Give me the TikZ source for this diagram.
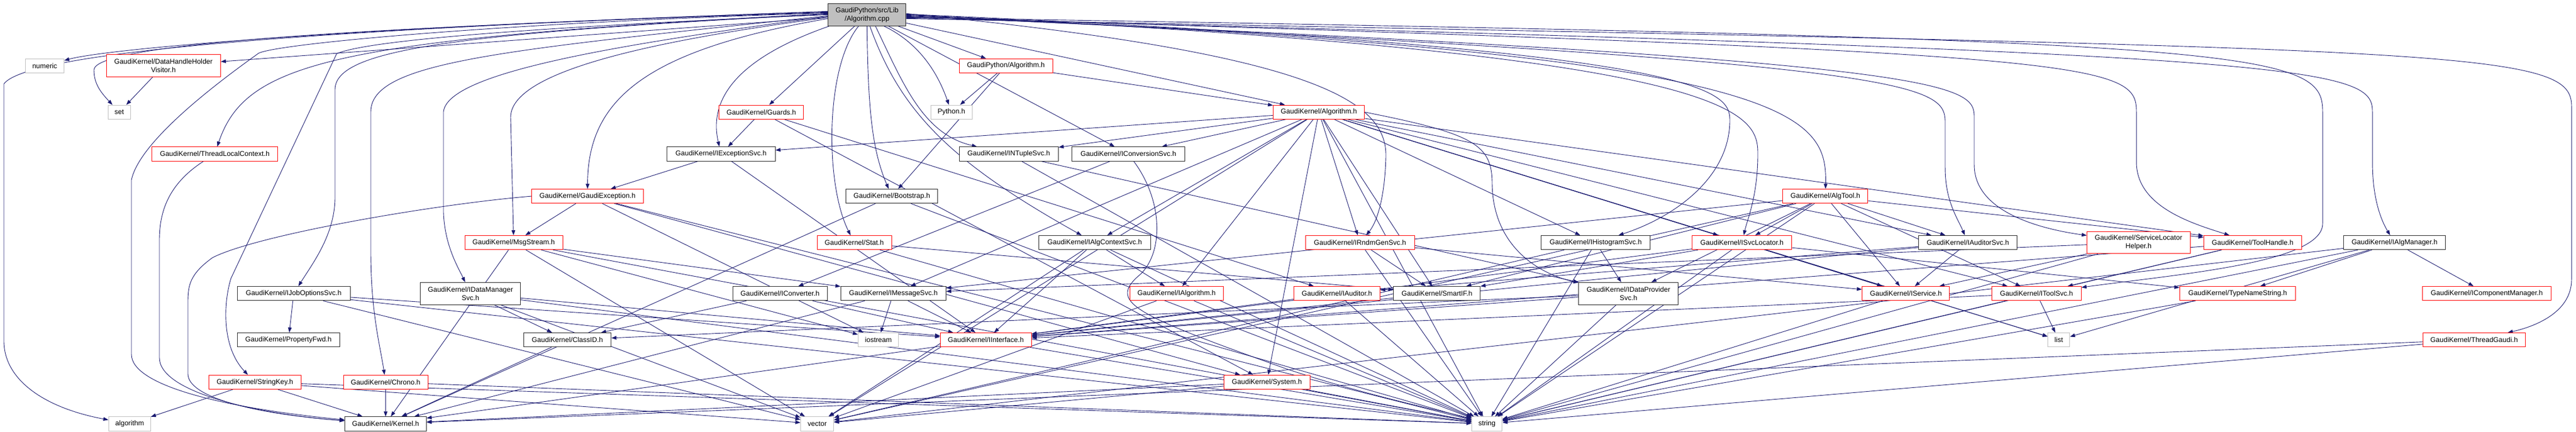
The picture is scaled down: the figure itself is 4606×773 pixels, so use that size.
\documentclass[tikz,border=0pt]{standalone}
\usepackage{fontspec}
\newfontfamily\dox{Liberation Sans}
\usetikzlibrary{arrows.meta}
\pgfdeclarelayer{bg}
\pgfsetlayers{bg,main}
\definecolor{edgec}{RGB}{25,25,112}
\definecolor{redc}{RGB}{255,0,0}
\definecolor{greyc}{RGB}{191,191,191}
\definecolor{rootc}{RGB}{191,191,191}
\begin{document}
\begin{tikzpicture}[x=1pt,y=-1pt,
  box/.style={rectangle,inner sep=0pt,minimum height=25.3pt,align=center,fill=white,text=black,line width=1pt,
    font=\dox\fontsize{12.5}{15}\selectfont},
  rb/.style={box,draw=redc},
  kb/.style={box,draw=black!85},
  gb/.style={box,draw=greyc},
  tall/.style={minimum height=39.6pt},
  e/.style={draw=edgec,line width=0.9pt,-{Triangle[length=9pt,width=6.5pt]}}]
\useasboundingbox (0,0) rectangle (4606,773);
% ---- nodes ----
\node[kb,tall,fill=rootc,minimum width=139.3pt] (R) at (1550.3,26.3) {GaudiPython/src/Lib\\/Algorithm.cpp};
% row 1
\node[gb,minimum width=68.7pt] (numeric) at (80,117.7) {numeric};
\node[rb,tall,minimum width=204.3pt] (DHHV) at (292.2,117.7) {GaudiKernel/DataHandleHolder\\Visitor.h};
\node[rb,minimum width=167.3pt] (GPAlg) at (1798.7,117.7) {GaudiPython/Algorithm.h};
% row 2
\node[gb,minimum width=40pt] (set) at (213.3,200.7) {set};
\node[rb,minimum width=151pt] (Guards) at (1361.2,200.7) {GaudiKernel/Guards.h};
\node[gb,minimum width=74.3pt] (PythonH) at (1701.2,200.7) {Python.h};
\node[rb,minimum width=163.3pt] (GKAlg) at (2358.3,200.7) {GaudiKernel/Algorithm.h};
% row 3
\node[rb,minimum width=225.3pt] (TLC) at (384,275.5) {GaudiKernel/ThreadLocalContext.h};
\node[kb,minimum width=193.7pt] (IExcSvc) at (1289.2,275.5) {GaudiKernel/IExceptionSvc.h};
\node[kb,minimum width=177.3pt] (INTuple) at (1803.7,275.5) {GaudiKernel/INTupleSvc.h};
\node[kb,minimum width=201.7pt] (IConvSvc) at (2017.5,275.5) {GaudiKernel/IConversionSvc.h};
% row 4
\node[rb,minimum width=200.3pt] (GaudiExc) at (1050.5,351.1) {GaudiKernel/GaudiException.h};
\node[kb,minimum width=164.3pt] (Bootstrap) at (1594.5,351.1) {GaudiKernel/Bootstrap.h};
\node[rb,minimum width=152.3pt] (AlgTool) at (3263.8,351.1) {GaudiKernel/AlgTool.h};
% row 5
\node[rb,minimum width=175pt] (MsgStream) at (918.5,434.1) {GaudiKernel/MsgStream.h};
\node[rb,minimum width=133pt] (Stat) at (1527.5,434.1) {GaudiKernel/Stat.h};
\node[kb,minimum width=200pt] (IAlgCtx) at (1957.3,434.1) {GaudiKernel/IAlgContextSvc.h};
\node[rb,minimum width=195pt] (IRndm) at (2431.8,434.1) {GaudiKernel/IRndmGenSvc.h};
\node[kb,minimum width=195pt] (IHisto) at (2853.2,434.1) {GaudiKernel/IHistogramSvc.h};
\node[rb,minimum width=178.3pt] (ISvcLoc) at (3114.8,434.1) {GaudiKernel/ISvcLocator.h};
\node[kb,minimum width=176pt] (IAudSvc) at (3518.7,434.1) {GaudiKernel/IAuditorSvc.h};
\node[rb,tall,minimum width=184.3pt] (SLH) at (3823.8,434.1) {GaudiKernel/ServiceLocator\\Helper.h};
\node[rb,minimum width=175pt] (ToolHandle) at (4027.8,434.1) {GaudiKernel/ToolHandle.h};
\node[kb,minimum width=181.7pt] (IAlgMgr) at (4281.5,434.1) {GaudiKernel/IAlgManager.h};
% row 6
\node[kb,minimum width=201.7pt] (IJOS) at (525.2,525.2) {GaudiKernel/IJobOptionsSvc.h};
\node[kb,tall,minimum width=179pt] (IDMS) at (841.2,525.2) {GaudiKernel/IDataManager\\Svc.h};
\node[kb,minimum width=169.3pt] (IConverter) at (1394.7,525.2) {GaudiKernel/IConverter.h};
\node[kb,minimum width=188pt] (IMsgSvc) at (1597.3,525.2) {GaudiKernel/IMessageSvc.h};
\node[rb,minimum width=167pt] (IAlgorithm) at (2103.8,525.2) {GaudiKernel/IAlgorithm.h};
\node[rb,minimum width=153.7pt] (IAuditor) at (2390.5,525.2) {GaudiKernel/IAuditor.h};
\node[kb,minimum width=154.7pt] (SmartIF) at (2569.3,525.2) {GaudiKernel/SmartIF.h};
\node[kb,tall,minimum width=177.7pt] (IDPS) at (2911.8,525.2) {GaudiKernel/IDataProvider\\Svc.h};
\node[rb,minimum width=156.3pt] (IService) at (3407.8,525.2) {GaudiKernel/IService.h};
\node[rb,minimum width=160pt] (IToolSvc) at (3641.3,525.2) {GaudiKernel/IToolSvc.h};
\node[rb,minimum width=207.3pt] (TNS) at (4001,525.2) {GaudiKernel/TypeNameString.h};
\node[rb,minimum width=229.7pt] (ICompMgr) at (4446.5,525.2) {GaudiKernel/IComponentManager.h};
% row 7
\node[kb,minimum width=183pt] (PropFwd) at (515.8,608.2) {GaudiKernel/PropertyFwd.h};
\node[kb,minimum width=156.3pt] (ClassID) at (1014.5,608.2) {GaudiKernel/ClassID.h};
\node[gb,minimum width=72.3pt] (iostream) at (1570.5,608.2) {iostream};
\node[rb,minimum width=162.7pt] (IInterface) at (1762.7,608.2) {GaudiKernel/IInterface.h};
\node[gb,minimum width=39pt] (list) at (3681.2,608.2) {list};
\node[rb,minimum width=183pt] (ThreadGaudi) at (4423.8,608.2) {GaudiKernel/ThreadGaudi.h};
% row 8
\node[rb,minimum width=165pt] (StringKey) at (455.8,683.8) {GaudiKernel/StringKey.h};
\node[rb,minimum width=151pt] (Chrono) at (689.5,683.8) {GaudiKernel/Chrono.h};
\node[rb,minimum width=153.7pt] (System) at (2265.2,683.8) {GaudiKernel/System.h};
% row 9
\node[gb,minimum width=75pt] (algorithm) at (231.8,758.4) {algorithm};
\node[kb,minimum width=145.7pt] (Kernel) at (689.5,758.4) {GaudiKernel/Kernel.h};
\node[gb,minimum width=59pt] (vector) at (1461.2,758.4) {vector};
\node[gb,minimum width=54.3pt] (string) at (2658.8,758.4) {string};
% ---- edges ----
\begin{pgfonlayer}{bg}
\fill[white] (0,0) rectangle (4606,773);
\foreach \a/\b in {R/DHHV, R/Guards, R/GPAlg, R/GKAlg, R/IConvSvc,
  DHHV/set, GPAlg/PythonH, GPAlg/Bootstrap, GPAlg/GKAlg,
  Guards/IExcSvc, Guards/IAuditor, Guards/System,
  IJOS/PropFwd, IJOS/IInterface, IJOS/vector, IJOS/string,
  StringKey/algorithm, StringKey/Kernel, StringKey/string, StringKey/vector,
  Chrono/Kernel, Chrono/string,
  IDMS/ClassID, IDMS/IInterface, IDMS/string, IDMS/vector,
  MsgStream/IMsgSvc, MsgStream/string, MsgStream/vector, MsgStream/iostream, MsgStream/Kernel,
  GaudiExc/MsgStream, GaudiExc/iostream, GaudiExc/string, GaudiExc/System,
  IExcSvc/GaudiExc, IExcSvc/IInterface,
  Bootstrap/string, Bootstrap/Kernel,
  Stat/SmartIF, Stat/string,
  INTuple/IDPS, INTuple/string,
  IConvSvc/IConverter,
  IConverter/ClassID, IConverter/IInterface,
  IMsgSvc/iostream, IMsgSvc/IInterface, IMsgSvc/Kernel,
  IAlgCtx/IAlgorithm, IAlgCtx/IInterface, IAlgCtx/vector, IAlgCtx/string,
  IAlgorithm/string, IAlgorithm/vector,
  System/string, System/vector, System/Kernel,
  GKAlg/IExcSvc, GKAlg/INTuple, GKAlg/IConvSvc, GKAlg/IAlgCtx, GKAlg/IMsgSvc, GKAlg/IAlgorithm,
  GKAlg/System, GKAlg/IRndm, GKAlg/IHisto, GKAlg/ISvcLoc, GKAlg/IAudSvc, GKAlg/IToolSvc,
  GKAlg/ToolHandle, GKAlg/SmartIF, GKAlg/IService, GKAlg/string, GKAlg/vector, GKAlg/list,
  IRndm/SmartIF, IRndm/string, IRndm/IService,
  IHisto/IDPS, IHisto/string, IHisto/vector,
  IDPS/string, IDPS/ClassID, IDPS/IInterface,
  IAuditor/string, IAuditor/IInterface,
  SmartIF/IInterface,
  AlgTool/ISvcLoc, AlgTool/IService, AlgTool/IAudSvc, AlgTool/IToolSvc, AlgTool/SmartIF,
  AlgTool/IDPS, AlgTool/IMsgSvc, AlgTool/string, AlgTool/vector, AlgTool/ToolHandle,
  ISvcLoc/string, ISvcLoc/IInterface, ISvcLoc/list, ISvcLoc/TNS, ISvcLoc/SmartIF, ISvcLoc/IService,
  IService/string,
  IAudSvc/IService, IAudSvc/IAuditor, IAudSvc/IInterface,
  IToolSvc/list, IToolSvc/string, IToolSvc/IInterface,
  SLH/IService, SLH/IMsgSvc, SLH/string,
  ToolHandle/IToolSvc, ToolHandle/IInterface, ToolHandle/string,
  TNS/string,
  IAlgMgr/ICompMgr, IAlgMgr/TNS, IAlgMgr/list, IAlgMgr/string, IAlgMgr/vector,
  ThreadGaudi/string, ThreadGaudi/Kernel,
  IInterface/Kernel, IInterface/string,
  ClassID/Kernel}
  \draw[e] (\a) -- (\b);
% curved routes from the root
\draw[e] ([yshift=6pt]R.west) .. controls (800,45) and (60,80) .. (7,150) -- (7,610) .. controls (7,680) and (80,730) .. (algorithm);
\draw[e] ([yshift=5pt]R.west) .. controls (700,45) and (200,85) .. (numeric);
\draw[e] ([yshift=4pt]R.west) .. controls (600,50) and (170,80) .. (168,125) .. controls (168,150) and (180,165) .. (set);
\draw[e] ([yshift=2pt]R.west) .. controls (600,70) and (440,110) .. (TLC);
\draw[e] ([yshift=1pt]R.west) .. controls (800,60) and (600,90) .. (599,160) -- (599,355) .. controls (598,420) and (560,470) .. (IJOS);
\draw[e] (R.west) .. controls (800,55) and (640,80) .. (602,96) -- (413,498) .. controls (400,540) and (395,620) .. (StringKey);
\draw[e] ([yshift=-2pt]R.west) .. controls (900,90) and (663,110) .. (663,200) -- (663,450) .. controls (663,560) and (680,620) .. (Chrono);
\draw[e] ([yshift=-3pt]R.west) .. controls (1100,80) and (800,130) .. (793,200) -- (793,380) .. controls (795,440) and (820,480) .. (IDMS);
\draw[e] ([yshift=-5pt]R.west) .. controls (1150,75) and (913,130) .. (913,210) -- (MsgStream);
\draw[e] ([yshift=-7pt]R.west) .. controls (1150,90) and (1051,180) .. (GaudiExc);
\draw[e] ([xshift=3pt]R.south west) .. controls (1330,100) and (1265,170) .. (IExcSvc);
\draw[e] ([yshift=3pt]R.west) .. controls (900,40) and (470,80) .. (460,97) .. controls (400,140) and (250,250) .. (235,322) -- (235,634) .. controls (235,690) and (400,730) .. (Kernel);
\draw[e] ([xshift=-15pt]R.south) .. controls (1475,120) and (1475,330) .. (Stat);
\draw[e] (R.south) .. controls (1552,200) and (1560,270) .. (Bootstrap);
\draw[e] ([xshift=5pt]R.south) .. controls (1610,200) and (1700,290) .. (IAlgCtx);
\draw[e] ([xshift=15pt]R.south) .. controls (1615,150) and (1650,240) .. (INTuple);
\draw[e] ([xshift=30pt]R.south) .. controls (1650,80) and (1680,140) .. (PythonH);
\draw[e] ([yshift=2pt]R.east) .. controls (2350,95) and (2480,180) .. (2478,280) .. controls (2476,360) and (2460,400) .. (IRndm);
\draw[e] ([yshift=1pt]R.east) .. controls (3050,88) and (3093,160) .. (3093,215) .. controls (3093,320) and (2990,390) .. (IHisto);
\draw[e] (R.east) .. controls (3110,95) and (3143,200) .. (3143,275) .. controls (3143,350) and (3125,390) .. (ISvcLoc);
\draw[e] ([yshift=-1pt]R.east) .. controls (3210,95) and (3267,200) .. (AlgTool);
\draw[e] ([yshift=-2pt]R.east) .. controls (3440,112) and (3478,150) .. (3478,220) -- (3478,300) .. controls (3478,360) and (3500,390) .. (IAudSvc);
\draw[e] ([yshift=-3pt]R.east) .. controls (3500,108) and (3530,150) .. (3530,210) -- (3530,295) .. controls (3530,380) and (3650,410) .. (SLH);
\draw[e] ([yshift=-4pt]R.east) .. controls (3750,95) and (3820,110) .. (3820,200) -- (3820,290) .. controls (3820,370) and (3920,400) .. (ToolHandle);
\draw[e] ([yshift=-5pt]R.east) .. controls (4050,70) and (4153,90) .. (4153,200) -- (4153,400) .. controls (4153,470) and (3900,490) .. (IToolSvc);
\draw[e] ([yshift=-6pt]R.east) .. controls (4150,95) and (4242,120) .. (4242,200) -- (4242,290) .. controls (4242,350) and (4255,390) .. (IAlgMgr);
\draw[e] ([yshift=-7pt]R.east) .. controls (4400,88) and (4598,85) .. (4598,190) -- (4598,500) .. controls (4598,560) and (4530,585) .. (ThreadGaudi);
% other curved routes
\draw[e] (TLC) .. controls (300,330) and (285,380) .. (285,430) -- (285,640) .. controls (285,700) and (450,740) .. (Kernel);
\draw[e] (GaudiExc.west) .. controls (780,365) and (460,420) .. (380,461) .. controls (340,490) and (336,510) .. (336,540) -- (336,669) .. controls (336,710) and (450,740) .. (Kernel);
\draw[e] (GKAlg.east) .. controls (2640,240) and (2668,260) .. (2668,330) .. controls (2670,440) and (2750,490) .. (IDPS);
\draw[e] (IConvSvc) .. controls (2080,360) and (2080,450) .. (2040,490) .. controls (1980,540) and (2020,560) .. (2300,660) .. controls (2450,710) and (2600,740) .. (string);
\end{pgfonlayer}
\end{tikzpicture}
\end{document}
